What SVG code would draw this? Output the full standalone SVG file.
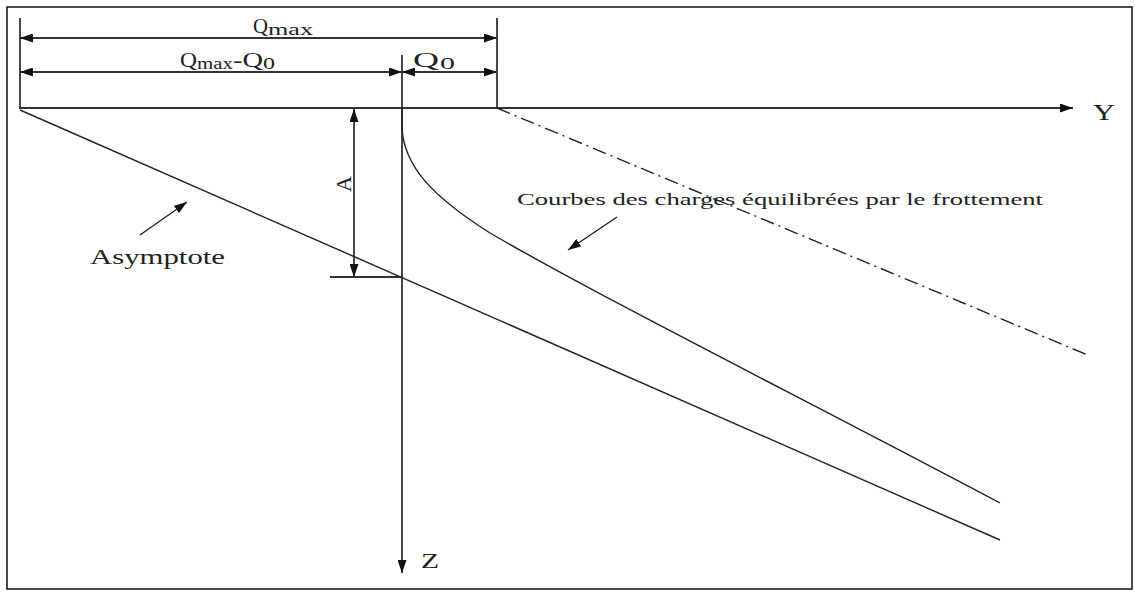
<svg xmlns="http://www.w3.org/2000/svg" width="1135" height="592" viewBox="0 0 1135 592">
<style>
.ln{stroke:#333;stroke-width:1.8;fill:none}
.thin{stroke:#222;stroke-width:1.4;fill:none}
.t{font-family:"Liberation Serif","Times New Roman",serif;fill:#222}
</style>
<defs>
<marker id="ah" viewBox="0 0 13 9" refX="13" refY="4.5" markerWidth="13" markerHeight="9" markerUnits="userSpaceOnUse" orient="auto-start-reverse">
<path d="M0,0 L13,4.5 L0,9 Z" fill="#111"/>
</marker>
</defs>
<rect x="7" y="7" width="1125" height="582" fill="#fff" stroke="#111" stroke-width="1.5"/>
<g id="connectors">
<line class="ln" x1="20" y1="18" x2="20" y2="108"/>
<line class="ln" x1="497" y1="18" x2="497" y2="108"/>
<line class="ln" x1="20" y1="38" x2="497" y2="38" marker-start="url(#ah)" marker-end="url(#ah)"/>
<line class="ln" x1="20" y1="72" x2="402" y2="72" marker-start="url(#ah)" marker-end="url(#ah)"/>
<line class="ln" x1="402" y1="72" x2="497" y2="72" marker-start="url(#ah)" marker-end="url(#ah)"/>
<line class="ln" x1="19" y1="108" x2="1073" y2="108" marker-end="url(#ah)"/>
<line class="ln" x1="402" y1="55" x2="402" y2="573" marker-end="url(#ah)"/>
<line class="ln" x1="354" y1="109" x2="354" y2="277" marker-start="url(#ah)" marker-end="url(#ah)"/>
<line class="ln" x1="330" y1="277" x2="402" y2="277"/>
<line class="thin" x1="20" y1="110" x2="1000" y2="540"/>
<path class="thin" d="M402,108 L402,128 C404,165 430,195 490,233 C600,297 800,397 1000,503"/>
<line class="thin" x1="497" y1="108" x2="1090" y2="356" stroke-dasharray="14 5 2 5"/>
<line class="thin" x1="140" y1="235" x2="187" y2="202" marker-end="url(#ah)"/>
<line class="thin" x1="617" y1="217" x2="568" y2="250" marker-end="url(#ah)"/>
</g>
<g id="labels">
<text class="t" x="253" y="33" font-size="22" textLength="15" lengthAdjust="spacingAndGlyphs">Q</text>
<text class="t" x="268" y="35" font-size="16" textLength="45" lengthAdjust="spacingAndGlyphs">max</text>
<text class="t" x="180" y="67" font-size="22" textLength="17" lengthAdjust="spacingAndGlyphs">Q</text>
<text class="t" x="197" y="69" font-size="16" textLength="36" lengthAdjust="spacingAndGlyphs">max</text>
<text class="t" x="233" y="67" font-size="22" textLength="30" lengthAdjust="spacingAndGlyphs">-Q</text>
<text class="t" x="263" y="69" font-size="16" textLength="12" lengthAdjust="spacingAndGlyphs">0</text>
<text class="t" x="413" y="67" font-size="22" textLength="26" lengthAdjust="spacingAndGlyphs">Q</text>
<text class="t" x="440" y="69" font-size="16" textLength="15" lengthAdjust="spacingAndGlyphs">0</text>
<text class="t" x="1093" y="120" font-size="23" textLength="22" lengthAdjust="spacingAndGlyphs">Y</text>
<text class="t" x="421" y="568" font-size="22" textLength="18" lengthAdjust="spacingAndGlyphs">Z</text>
<text class="t" x="351" y="184" font-size="22" text-anchor="middle" transform="rotate(-90 351 184)">A</text>
<text class="t" x="90" y="264" font-size="21" textLength="135" lengthAdjust="spacingAndGlyphs">Asymptote</text>
<text class="t" x="517" y="205" font-size="17" textLength="526" lengthAdjust="spacingAndGlyphs">Courbes des charges équilibrées par le frottement</text>
</g>
</svg>
